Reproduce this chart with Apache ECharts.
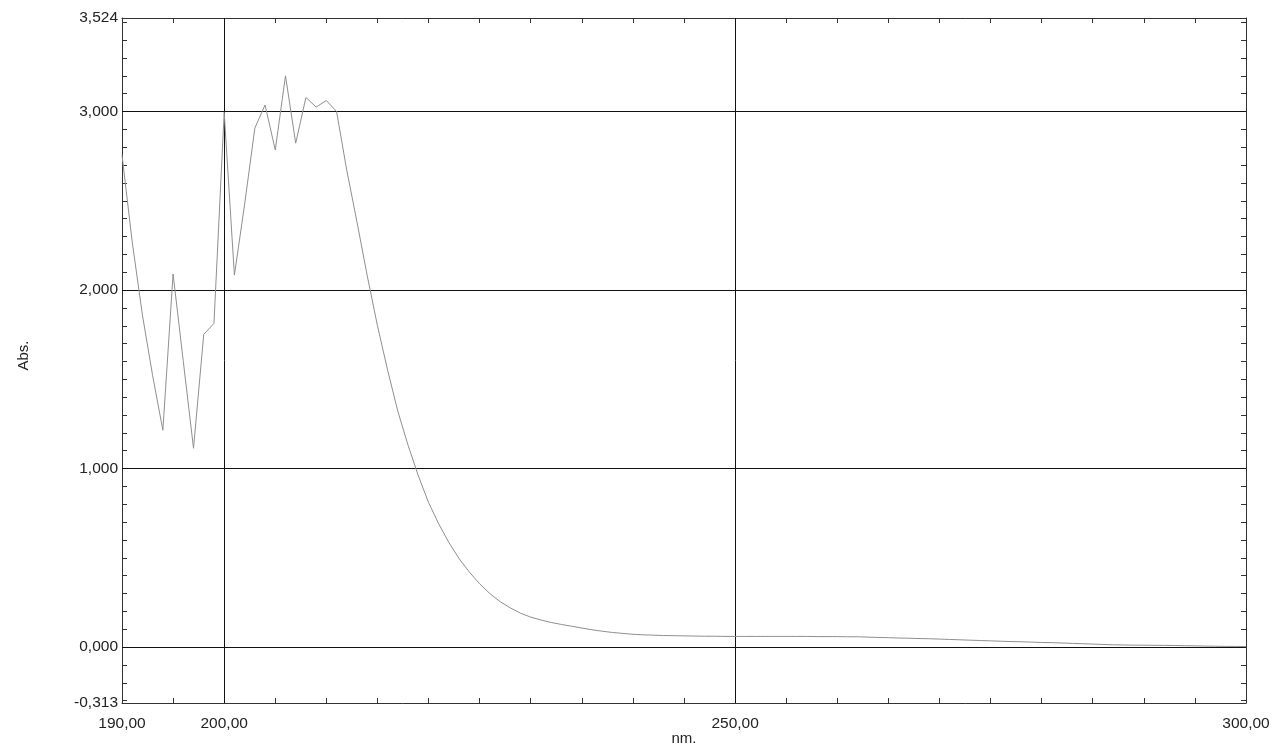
<!DOCTYPE html>
<html>
<head>
<meta charset="utf-8">
<script src="https://cdn.jsdelivr.net/npm/echarts@6/dist/echarts.min.js"></script>
<style>
  html, body { margin: 0; padding: 0; background: #fff; overflow: hidden; }
  #chart { width: 1273px; height: 747px; }
</style>
</head>
<body>
<div id="chart"></div>
<script>
// Wavelength (nm) and absorbance
const wavelengths = [
  190,191,192,193,194,195,196,197,198,199,
  200,201,202,203,204,205,206,207,208,209,
  210,211,212,213,214,215,216,217,218,219,
  220,221,222,223,224,225,226,227,228,229,
  230,231,232,233,234,235,236,237,238,239,
  240,241,242,243,244,245,246,247,248,249,
  250,251,252,253,254,255,256,257,258,259,
  260,261,262,263,264,265,266,267,268,269,
  270,271,272,273,274,275,276,277,278,279,
  280,281,282,283,284,285,286,287,288,289,
  290,291,292,293,294,295,296,297,298,299,
  300
];
const absorbance = [
  2.757,2.27,1.86,1.52,1.215,2.09,1.60,1.114,1.752,1.813,
  2.995,2.084,2.48,2.907,3.037,2.785,3.20,2.823,3.079,3.025,
  3.062,3.000,2.67,2.38,2.08,1.80,1.55,1.32,1.13,0.96,
  0.81,0.69,0.585,0.495,0.42,0.355,0.30,0.255,0.22,0.19,
  0.168,0.152,0.138,0.127,0.117,0.107,0.097,0.089,0.082,0.077,
  0.072,0.069,0.067,0.065,0.064,0.063,0.062,0.061,0.061,0.060,
  0.060,0.060,0.060,0.060,0.060,0.060,0.060,0.060,0.059,0.059,
  0.059,0.058,0.058,0.056,0.054,0.053,0.051,0.050,0.048,0.047,
  0.045,0.043,0.041,0.039,0.037,0.035,0.033,0.031,0.030,0.028,
  0.026,0.025,0.023,0.021,0.019,0.017,0.015,0.013,0.012,0.011,
  0.011,0.010,0.010,0.009,0.008,0.007,0.006,0.005,0.004,0.004,
  0.003
];

// Axis decorations
const xLabelValues = [190, 200, 250, 300];
const yLabelValues = [-0.313, 0, 1, 2, 3, 3.524];
const xMinorTicks = [195,205,210,215,220,225,230,235,240,245,255,260,265,270,275,280,285,290,295];
const xMajorTicks = [200, 250];
const yMinorTicks = [-0.3,-0.2,-0.1,0.1,0.2,0.3,0.4,0.5,0.6,0.7,0.8,0.9,
  1.1,1.2,1.3,1.4,1.5,1.6,1.7,1.8,1.9,2.1,2.2,2.3,2.4,2.5,2.6,2.7,2.8,2.9,
  3.1,3.2,3.3,3.4,3.5];
const gridX = [200, 250];
const gridY = [0, 1, 2, 3];

const X_MIN = 190, X_MAX = 300, Y_MIN = -0.313, Y_MAX = 3.524;
const FONT = '"Liberation Sans", Arial, sans-serif';
const frame = { show: true, onZero: false, lineStyle: { color: '#333', width: 1 } };

const chart = echarts.init(document.getElementById('chart'), null, { renderer: 'canvas' });
chart.setOption({
  animation: false,
  backgroundColor: '#fff',
  grid: { left: 122, right: 27, top: 18, bottom: 44, containLabel: false, outerBoundsMode: 'none' },
  xAxis: [
    {
      type: 'value', min: X_MIN, max: X_MAX, position: 'bottom',
      axisLine: frame,
      axisTick: { show: true, inside: true, length: 5, customValues: xMinorTicks, lineStyle: { color: '#333' } },
      axisLabel: {
        show: true, customValues: xLabelValues, margin: 13,
        fontFamily: FONT, fontSize: 15.5, color: '#222',
        formatter: v => v.toFixed(2).replace('.', ',')
      },
      splitLine: { show: false },
      name: 'nm.', nameLocation: 'middle', nameGap: 28, nameMoveOverlap: false,
      nameTextStyle: { fontFamily: FONT, fontSize: 15, color: '#222' }
    },
    {
      type: 'value', min: X_MIN, max: X_MAX, position: 'top',
      axisLine: frame,
      axisTick: { show: true, inside: true, length: 5, customValues: xMinorTicks, lineStyle: { color: '#333' } },
      axisLabel: { show: false },
      splitLine: { show: false }
    },
    {
      type: 'value', min: X_MIN, max: X_MAX, position: 'bottom',
      axisLine: { show: false },
      axisTick: { show: true, inside: false, length: 6, customValues: xMajorTicks, lineStyle: { color: '#111' } },
      axisLabel: { show: false },
      splitLine: { show: false }
    }
  ],
  yAxis: [
    {
      type: 'value', min: Y_MIN, max: Y_MAX, position: 'left',
      axisLine: frame,
      axisTick: { show: true, inside: true, length: 5, customValues: yMinorTicks, lineStyle: { color: '#333' } },
      axisLabel: {
        show: true, customValues: yLabelValues, margin: 4,
        fontFamily: FONT, fontSize: 15.5, color: '#222',
        formatter: v => v.toFixed(3).replace('.', ',')
      },
      splitLine: { show: false },
      name: 'Abs.', nameLocation: 'middle', nameGap: 91, nameMoveOverlap: false,
      nameTextStyle: { fontFamily: FONT, fontSize: 15, color: '#222', padding: [0, 0, 0, 10] }
    },
    {
      type: 'value', min: Y_MIN, max: Y_MAX, position: 'right',
      axisLine: frame,
      axisTick: { show: true, inside: true, length: 5, customValues: yMinorTicks, lineStyle: { color: '#333' } },
      axisLabel: { show: false },
      splitLine: { show: false }
    }
  ],
  series: [
    {
      type: 'line',
      xAxisIndex: 0, yAxisIndex: 0,
      data: wavelengths.map((w, i) => [w, absorbance[i]]),
      showSymbol: false, symbol: 'none',
      lineStyle: { color: '#8f8f8f', width: 1 },
      silent: true,
      z: 3,
      markLine: {
        silent: true,
        symbol: ['none', 'none'],
        label: { show: false },
        lineStyle: { type: 'solid', color: '#111', width: 1 },
        emphasis: { disabled: true },
        z: 2,
        data: gridY.map(v => ({ yAxis: v })).concat(gridX.map(v => ({ xAxis: v })))
      }
    }
  ]
});
</script>
</body>
</html>
